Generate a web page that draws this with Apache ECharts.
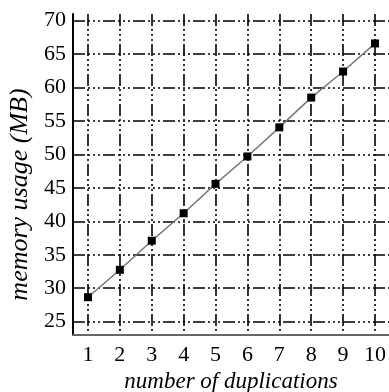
<!DOCTYPE html>
<html><head><meta charset="utf-8">
<script src="https://cdn.jsdelivr.net/npm/echarts@6/dist/echarts.min.js"></script>
<style>html,body{margin:0;padding:0;background:#fff}#c{width:389px;height:392px}</style>
</head><body><div id="c"></div>
<script>
var duplications = [1, 2, 3, 4, 5, 6, 7, 8, 9, 10];
var memoryMB = [28.65, 32.75, 37.1, 41.2, 45.6, 49.7, 54.05, 58.5, 62.4, 66.6];
var xTitle = 'number of duplications';
var yTitle = 'memory usage (MB)';

var gridDash = [12, 3, 2, 3, 2, 3, 2, 3];
var font = 'Liberation Serif';
var chart = echarts.init(document.getElementById('c'));
chart.setOption({
  animation: false,
  grid: {left: 73, top: 14, right: 0, bottom: 57, containLabel: false, outerBoundsMode: 'none'},
  xAxis: {
    type: 'value', min: 0.53, max: 10.44, splitNumber: 10,
    name: xTitle, nameLocation: 'middle', nameGap: 30,
    nameTextStyle: {fontFamily: font, fontStyle: 'italic', fontSize: 23, color: '#000'},
    axisLine: {lineStyle: {color: '#666', width: 2}},
    axisTick: {show: false},
    axisLabel: {fontFamily: font, fontSize: 22, color: '#000', margin: 9,
      formatter: function (v) { return Math.abs(v - Math.round(v)) < 1e-6 ? String(Math.round(v)) : ''; }},
    splitLine: {show: true, showMinLine: false, showMaxLine: false, lineStyle: {color: '#000', width: 1.6, type: gridDash}}
  },
  yAxis: {
    type: 'value', min: 23, max: 71, splitNumber: 9,
    name: yTitle, nameLocation: 'middle', nameGap: 38, nameRotate: 90,
    nameTextStyle: {fontFamily: font, fontStyle: 'italic', fontSize: 26, color: '#000', padding: [0, 40, 0, 0]},
    axisLine: {show: true, lineStyle: {color: '#000', width: 2}},
    axisTick: {show: false},
    axisLabel: {fontFamily: font, fontSize: 22, color: '#000', margin: 7,
      formatter: function (v) { return Math.abs(v % 5) < 1e-6 ? String(v) : ''; }},
    splitLine: {show: true, showMinLine: false, showMaxLine: false, lineStyle: {color: '#000', width: 1.6, type: gridDash}}
  },
  series: [{
    type: 'line',
    data: duplications.map(function (d, i) { return [d, memoryMB[i]]; }),
    symbol: 'rect', symbolSize: 8,
    itemStyle: {color: '#000'},
    lineStyle: {color: '#777', width: 1.5}
  }]
});
</script></body></html>
